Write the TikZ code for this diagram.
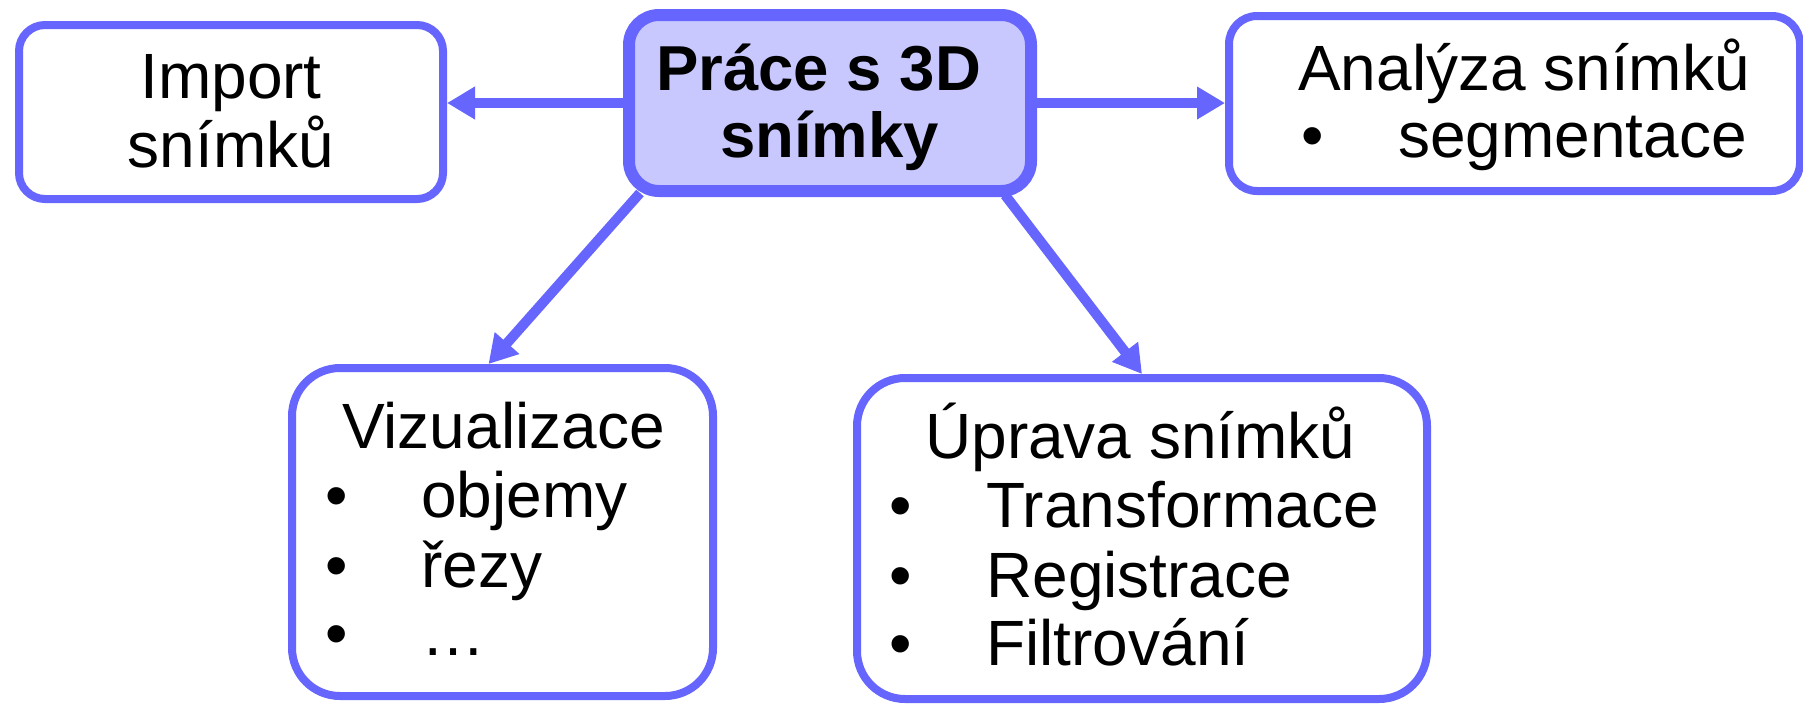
\documentclass[tikz,border=0pt]{standalone}
\usepackage{fontspec}
\setmainfont{Liberation Sans}
\usetikzlibrary{arrows.meta}
\definecolor{bord}{RGB}{102,102,255}
\definecolor{lav}{RGB}{200,200,255}
\begin{document}
\begin{tikzpicture}[x=1pt,y=-1pt,
  box/.style={draw=bord, line width=8pt, fill=white, inner sep=0pt},
  mainbox/.style={draw=bord, line width=12pt, fill=lav, rounded corners=30pt, inner sep=0pt, minimum width=402pt, minimum height=176pt},
  txt/.style={inner sep=0pt, anchor=base west, font=\fontsize{64}{70}\selectfont},
  ctxt/.style={inner sep=0pt, anchor=base, font=\fontsize{64}{70}\selectfont},
  btxt/.style={inner sep=0pt, anchor=base west, font=\fontsize{63.5}{70}\selectfont\bfseries},
  bctxt/.style={inner sep=0pt, anchor=base, font=\fontsize{63.5}{70}\selectfont\bfseries},
  conn/.style={draw=bord, line width=10pt, -{Triangle[length=28pt,width=31pt]}}]
\useasboundingbox (0,0) rectangle (1803,705);
% boxes
\node[box, rounded corners=26pt, minimum width=424pt, minimum height=174pt] (imp) at (231,112) {};
\node[mainbox] (c) at (830,103) {};
\node[box, rounded corners=28pt, minimum width=571pt, minimum height=175pt] (ana) at (1514.5,103.5) {};
\node[box, rounded corners=48pt, minimum width=421pt, minimum height=328pt] (viz) at (502.5,532) {};
\node[box, rounded corners=48pt, minimum width=570pt, minimum height=321pt] (upr) at (1142,538.5) {};
% texts
\node[ctxt] (imp1) at (231,98) {Import};
\node[ctxt] (imp2) at (231,167) {snímků};
\node[btxt] (c1) at (656,90) {Práce s 3D};
\node[bctxt] (c2) at (829.5,157) {snímky};
\node[txt] (ana1) at (1298,90) {Analýza snímků};
\node[ctxt] (anab) at (1313,157) {•};
\node[txt] (ana2) at (1398,157) {segmentace};
\node[txt] (viz0) at (342,448) {Vizualizace};
\node[ctxt] (vizb1) at (337,517) {•};
\node[ctxt] (vizb2) at (337,587) {•};
\node[ctxt] (vizb3) at (337,655) {•};
\node[txt] (viz1) at (421,517) {objemy};
\node[txt] (viz2) at (421,587) {řezy};
\node[txt] (viz3) at (421,655) {…};
\node[txt] (upr0) at (925,458) {Úprava snímků};
\node[ctxt] (uprb1) at (901,527) {•};
\node[ctxt] (uprb2) at (901,597) {•};
\node[ctxt] (uprb3) at (901,665) {•};
\node[txt] (upr1) at (986,527) {Transformace};
\node[txt] (upr2) at (986,597) {Registrace};
\node[txt] (upr3) at (986,665) {Filtrování};
% connectors
\draw[conn] (c.west) -- (c.west -| imp.east);
\draw[conn] (c.east) -- (c.east -| ana.west);
\draw[conn] ([xshift=17pt,yshift=4pt]c.south west) -- ([xshift=-14pt]viz.north);
\draw[conn] ([xshift=-32pt,yshift=2pt]c.south east) -- (upr.north);
\end{tikzpicture}
\end{document}
